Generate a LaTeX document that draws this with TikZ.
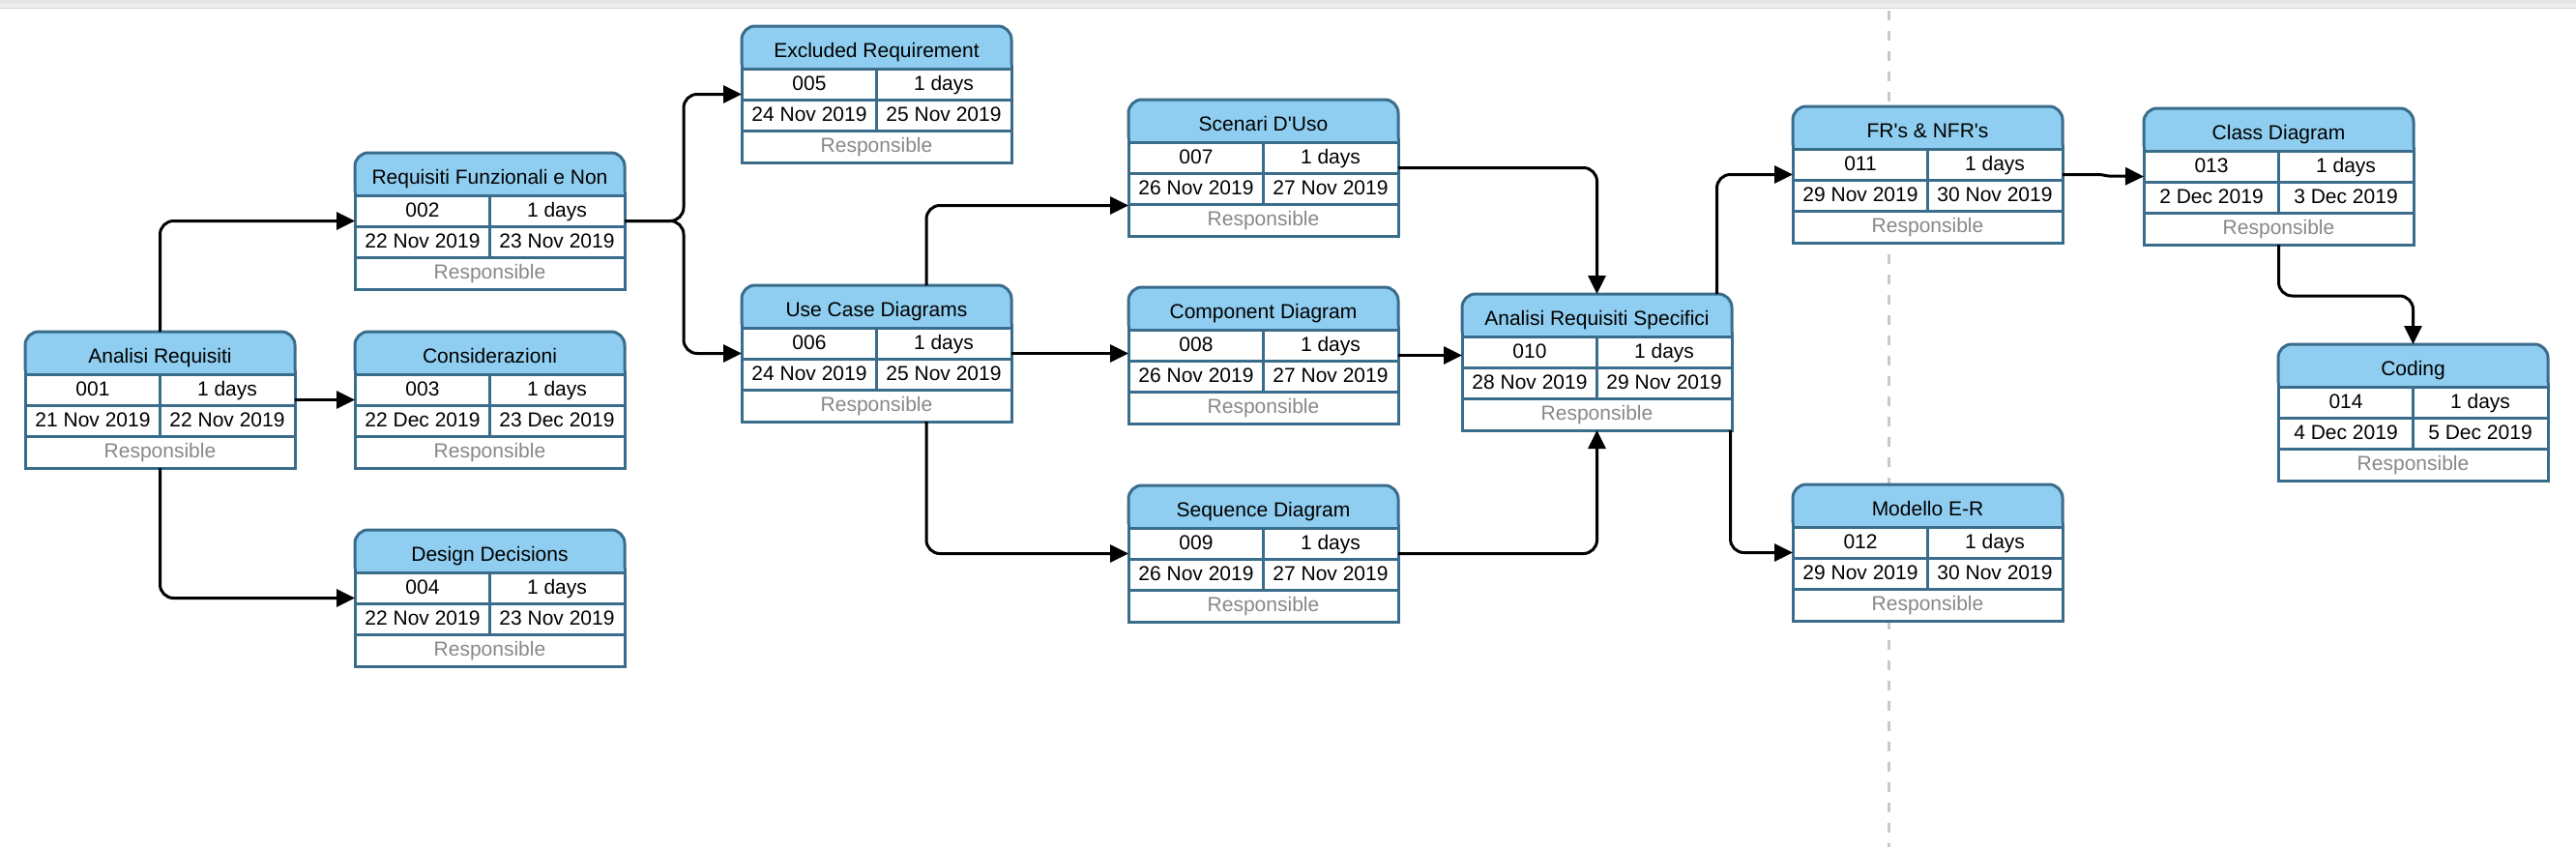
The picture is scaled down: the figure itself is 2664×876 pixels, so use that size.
\documentclass[tikz,border=0pt]{standalone}
\usepackage{fontspec}
\setmainfont{Liberation Sans}
\usetikzlibrary{arrows.meta,calc}
\definecolor{hdrblue}{RGB}{143,206,240}
\definecolor{bdblue}{RGB}{58,108,140}
\definecolor{respgray}{RGB}{136,136,136}
\definecolor{dashgray}{RGB}{200,200,200}
\tikzset{
  bd/.style={draw=bdblue,line width=3pt},
  tbox/.style={draw=none,minimum width=279pt,minimum height=141pt,inner sep=0pt,outer sep=0pt},
  celltxt/.style={anchor=base,inner sep=0pt,font=\fontsize{21}{25}\selectfont},
  resptxt/.style={celltxt,text=respgray},
  conn/.style={draw=black,line width=3pt,rounded corners=14pt,-{Triangle[length=19pt,width=18pt]}},
}
\newcommand\tasknode[7]{%
  \fill[hdrblue,rounded corners=14pt] (#2,#3) rectangle ++(279,64);
  \fill[white] (#2,{#3+44}) rectangle ++(279,97);
  \draw[bd,rounded corners=14pt] (#2,{#3+40}) -- (#2,#3) -- ({#2+279},#3) -- ({#2+279},{#3+40});
  \draw[bd] (#2,{#3+40}) -- (#2,{#3+141}) -- ({#2+279},{#3+141}) -- ({#2+279},{#3+40});
  \draw[bd] (#2,{#3+44}) -- ++(279,0) (#2,{#3+76}) -- ++(279,0) (#2,{#3+108}) -- ++(279,0)
            ({#2+139.5},{#3+44}) -- ++(0,64);
  \node[tbox,anchor=north west] (#1) at (#2,#3) {};
  \node[celltxt] (#1-t) at ({#2+139.5},{#3+32}) {#4};
  \node[celltxt] (#1-id) at ({#2+70},{#3+66}) {#5};
  \node[celltxt] (#1-d) at ({#2+209},{#3+66}) {1 days};
  \node[celltxt] (#1-s) at ({#2+70},{#3+98}) {#6};
  \node[celltxt] (#1-e) at ({#2+209},{#3+98}) {#7};
  \node[resptxt] (#1-r) at ({#2+139.5},{#3+130}) {Responsible};
}
\begin{document}
\begin{tikzpicture}[x=1pt,y=-1pt]
\useasboundingbox (0,0) rectangle (2664,876);
\fill[white] (0,0) rectangle (2664,876);
\shade[top color=gray!22,bottom color=gray!10] (0,0) rectangle (2664,8);
\draw[gray!35,line width=1pt] (0,8.5) -- (2664,8.5);
\draw[dashgray,line width=3pt,dash pattern=on 10pt off 11pt] (1953,11) -- (1953,876);

\tasknode{A}{26}{343}{Analisi Requisiti}{001}{21 Nov 2019}{22 Nov 2019}
\tasknode{B}{367}{158}{Requisiti Funzionali e Non}{002}{22 Nov 2019}{23 Nov 2019}
\tasknode{C}{367}{343}{Considerazioni}{003}{22 Dec 2019}{23 Dec 2019}
\tasknode{D}{367}{548}{Design Decisions}{004}{22 Nov 2019}{23 Nov 2019}
\tasknode{E}{767}{27}{Excluded Requirement}{005}{24 Nov 2019}{25 Nov 2019}
\tasknode{F}{767}{295}{Use Case Diagrams}{006}{24 Nov 2019}{25 Nov 2019}
\tasknode{G}{1167}{103}{Scenari D\textquotesingle Uso}{007}{26 Nov 2019}{27 Nov 2019}
\tasknode{H}{1167}{297}{Component Diagram}{008}{26 Nov 2019}{27 Nov 2019}
\tasknode{I}{1167}{502}{Sequence Diagram}{009}{26 Nov 2019}{27 Nov 2019}
\tasknode{J}{1512}{304}{Analisi Requisiti Specifici}{010}{28 Nov 2019}{29 Nov 2019}
\tasknode{K}{1854}{110}{FR\textquotesingle s \& NFR\textquotesingle s}{011}{29 Nov 2019}{30 Nov 2019}
\tasknode{M}{1854}{501}{Modello E-R}{012}{29 Nov 2019}{30 Nov 2019}
\tasknode{L}{2217}{112}{Class Diagram}{013}{2 Dec 2019}{3 Dec 2019}
\tasknode{N}{2356}{356}{Coding}{014}{4 Dec 2019}{5 Dec 2019}

\draw[conn] (A.north) |- (B.west);
\draw[conn] (A.east) -- (C.west);
\draw[conn] (A.south) |- (D.west);
\draw[conn] (B.east) -- ++(61,0) |- (E.west);
\draw[conn] (B.east) -- ++(61,0) |- (F.west);
\draw[conn] ([xshift=51.5pt]F.north) |- ([yshift=-39pt]G.west);
\draw[conn] ([xshift=51.5pt]F.south) |- (I.west);
\draw[conn] (F.east) -- (F.east -| H.west);
\draw[conn] (G.east) -| (J.north);
\draw[conn] (H.east) -- (H.east -| J.west);
\draw[conn] (I.east) -| (J.south);
\draw[conn] ([xshift=124pt]J.north) |- (K.west);
\draw[conn] ([xshift=-1.5pt]J.south east) |- (M.west);
\draw[conn,rounded corners=2pt] (K.east) -- ++(40,0) -- ++(6,1.5) -- (L.west);
\draw[conn] (L.south) -- ++(0,53) -| (N.north);
\end{tikzpicture}
\end{document}
